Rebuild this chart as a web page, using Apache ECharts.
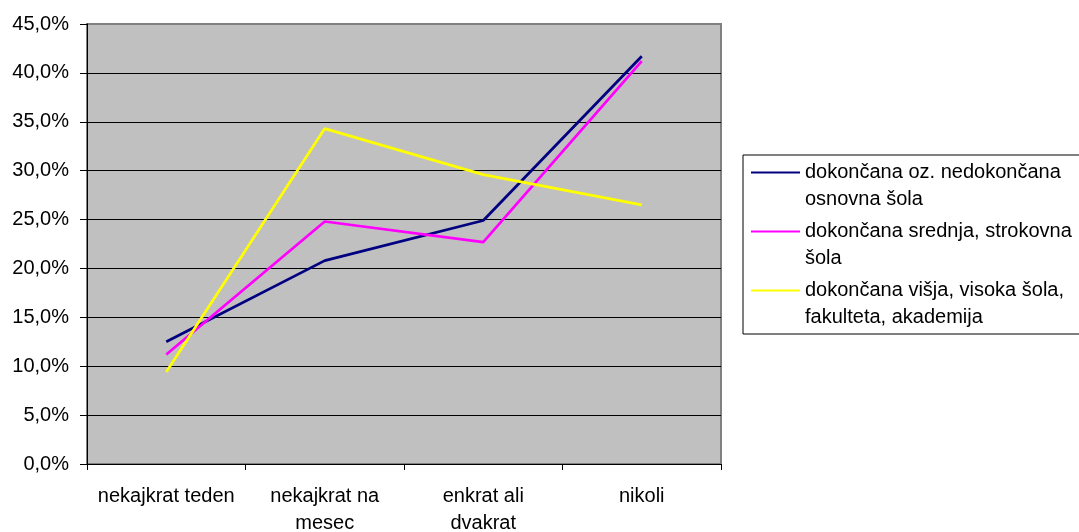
<!DOCTYPE html>
<html><head><meta charset="utf-8">
<script src="https://cdn.jsdelivr.net/npm/echarts@6/dist/echarts.min.js"></script>
<style>html,body{margin:0;padding:0;background:#fff}#c{width:1079px;height:532px}</style>
</head><body><div id="c"></div>
<script>
const categories = ['nekajkrat teden', 'nekajkrat na\nmesec', 'enkrat ali\ndvakrat', 'nikoli'];
const seriesNames = ['dokončana oz. nedokončana\nosnovna šola', 'dokončana srednja, strokovna\nšola', 'dokončana višja, visoka šola,\nfakulteta, akademija'];
const osnovna = [12.5, 20.8, 24.9, 41.7];
const srednja = [11.2, 24.8, 22.7, 41.2];
const visja = [9.4, 34.3, 29.6, 26.5];
const colors = ['#000080', '#FF00FF', '#FFFF00'];
const FONT = 'Liberation Sans, Arial, sans-serif';

const chart = echarts.init(document.getElementById('c'));
const data = [osnovna, srednja, visja];
const splitColors = ['#000', '#000', '#000', '#000', '#000', '#000', '#000', '#000', '#000', '#808080'];
chart.setOption({
  animation: false,
  backgroundColor: '#fff',
  textStyle: {fontFamily: FONT},
  grid: {left: 87, right: 358, top: 24, bottom: 68, outerBoundsMode: 'none', containLabel: false,
    show: true, backgroundColor: '#C0C0C0', borderColor: '#808080', borderWidth: 2},
  legend: {
    left: 743, top: 155, orient: 'vertical',
    padding: [-23, 10, 3, 8],
    borderColor: '#000', borderWidth: 1, backgroundColor: '#fff',
    itemWidth: 49, itemHeight: 14, itemGap: -22,
    icon: 'path://M0,6 L49,6 L49,8 L0,8 Z',
    formatter: name => '\n' + name,
    textStyle: {fontFamily: FONT, fontSize: 20, color: '#000', lineHeight: 27},
    data: seriesNames
  },
  xAxis: {
    type: 'category', data: categories, boundaryGap: true,
    axisLine: {lineStyle: {color: '#000', width: 1}},
    axisTick: {show: true, interval: 0, length: 6, lineStyle: {color: '#000'}},
    axisLabel: {interval: 0, color: '#000', fontSize: 20, fontFamily: FONT, lineHeight: 27, margin: 19}
  },
  yAxis: {
    type: 'value', min: 0, max: 45, interval: 5,
    axisLine: {show: true, lineStyle: {color: '#000'}},
    axisTick: {show: true, length: 7, lineStyle: {color: '#000'}},
    splitLine: {lineStyle: {color: splitColors, width: 1}},
    axisLabel: {color: '#000', fontSize: 20, fontFamily: FONT, margin: 18,
      formatter: v => v.toFixed(1).replace('.', ',') + '%'}
  },
  series: data.map((d, i) => ({
    name: seriesNames[i], type: 'line', data: d, symbol: 'none',
    lineStyle: {color: colors[i], width: 2.75}, itemStyle: {color: colors[i]}
  }))
});
</script></body></html>
